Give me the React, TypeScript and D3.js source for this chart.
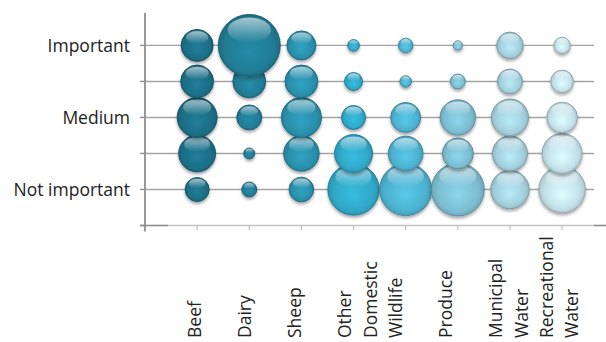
import React from "react";
import * as d3 from "d3";

const categories = ["Beef", "Dairy", "Sheep", "Other Domestic", "Wildlife", "Produce", "Municipal Water", "Recreational Water"];
const categoryLines = [["Beef"], ["Dairy"], ["Sheep"], ["Other", "Domestic"], ["Wildlife"], ["Produce"], ["Municipal", "Water"], ["Recreational", "Water"]];
const levelTicks = [0, 1, 2, 3, 4, 5];
const levelLabels = ["", "Not important", "", "Medium", "", "Important"];
const columnColors = ["#1d6e86", "#217c95", "#2a8fab", "#30a7c7", "#4db1cf", "#7cbdd1", "#a3cfdc", "#c3e0e8"];

// bubble sizes (area-proportional), one array per importance level
const notImportant = [14.4, 5.6, 15.2, 66, 68, 70, 37, 54];
const lowMedium = [34, 3, 31.4, 36, 30, 24, 30.7, 40];
const medium = [40, 15.6, 40, 14.4, 22.5, 31.4, 34.3, 23.4];
const highMedium = [27, 27, 27, 8.1, 3.3, 5.6, 15.6, 12.8];
const important = [25.6, 96, 21, 3.4, 5.3, 2.2, 17.7, 6.7];
const seriesByLevel = [notImportant, lowMedium, medium, highMedium, important];

const W = 606;
const H = 342;

export default function App() {
  const x = d3.scaleLinear().domain([0, 8]).range([145, 562.1]);
  const y = d3.scaleLinear().domain([0, 5.9]).range([225.5, 13]);
  const r = d3.scaleSqrt().domain([0, 100]).range([0, 31.6]);
  const labelX = d3.scaleLinear().domain([0, 7]).range([200.5, 552.6]);
  const plotRight = 594;
  const font = "'Open Sans', 'Noto Sans', sans-serif";

  const bubbles: any[] = [];
  seriesByLevel.forEach((arr, li) => {
    arr.forEach((v, ci) => {
      bubbles.push({ level: li + 1, ci, v });
    });
  });

  return (
    <svg width={W} height={H} style={{ position: "absolute", left: 0, top: 0, background: "#fff" }}>
      <defs>
        <filter id="shadow" x="-30%" y="-30%" width="160%" height="170%">
          <feDropShadow dx="0" dy="2.2" stdDeviation="1.6" floodColor="#000" floodOpacity="0.35" />
        </filter>
        <linearGradient id="hl" x1="0" y1="0" x2="0" y2="1">
          <stop offset="0" stopColor="#fff" stopOpacity="0.6" />
          <stop offset="1" stopColor="#fff" stopOpacity="0" />
        </linearGradient>
        {columnColors.map((c, i) => (
          <radialGradient key={i} id={`g${i}`} cx="0.5" cy="0.5" r="0.55" fx="0.5" fy="0.62">
            <stop offset="0" stopColor={d3.color(c)!.brighter(0.35).formatHex()} />
            <stop offset="0.7" stopColor={c} />
            <stop offset="0.93" stopColor={d3.color(c)!.darker(0.35).formatHex()} />
            <stop offset="1" stopColor={d3.color(c)!.darker(0.6).formatHex()} />
          </radialGradient>
        ))}
      </defs>

      {/* gridlines */}
      {levelTicks.filter((t) => t > 0).map((t) => (
        <line key={t} x1={x(0)} x2={plotRight} y1={y(t)} y2={y(t)} stroke="#a3a3a3" strokeWidth={1.4} />
      ))}

      {/* x axis */}
      <line x1={x(0) + 23} x2={plotRight} y1={y(0)} y2={y(0)} stroke="#c4c4c4" strokeWidth={1.5} />
      <line x1={x(0) - 5} x2={x(0) + 23} y1={y(0)} y2={y(0)} stroke="#8e8e8e" strokeWidth={1.6} />
      <line x1={plotRight} x2={W} y1={y(0)} y2={y(0)} stroke="#8e8e8e" strokeWidth={1.6} />
      {categories.map((c, i) => (
        <line key={c} x1={x(i + 1)} x2={x(i + 1)} y1={y(0)} y2={y(0) + 4.5} stroke="#bdbdbd" strokeWidth={1.2} />
      ))}

      {/* y axis */}
      <line x1={x(0)} x2={x(0)} y1={y(5.9)} y2={y(0) + 6} stroke="#8e8e8e" strokeWidth={1.8} />
      {levelTicks.map((t) => (
        <line key={t} x1={x(0) - 5} x2={x(0)} y1={y(t)} y2={y(t)} stroke="#8e8e8e" strokeWidth={1.4} />
      ))}
      {levelTicks.map((t) => (
        <text key={t} x={130} y={y(t)} dy="0.36em" textAnchor="end" fontFamily={font} fontSize={17.5} fill="#222">
          {levelLabels[t]}
        </text>
      ))}

      {/* bubbles */}
      {bubbles.map((b, k) => {
        const cx = x(b.ci + 1);
        const cy = y(b.level);
        const rr = r(b.v);
        return (
          <g key={k}>
            <circle cx={cx} cy={cy} r={rr} fill={`url(#g${b.ci})`} stroke={d3.color(columnColors[b.ci])!.darker(0.9).formatHex()} strokeWidth={0.9} filter="url(#shadow)" />
            <ellipse cx={cx} cy={cy - rr * 0.5} rx={rr * 0.7} ry={rr * 0.4} fill="url(#hl)" />
          </g>
        );
      })}

      {/* category labels */}
      {categoryLines.map((lines, i) => (
        <g key={i}>
          {lines.map((ln, j) => {
            const lx = labelX(i) + j * 25.5;
            const ly = 338;
            return (
              <text key={j} x={lx} y={ly} transform={`rotate(-90 ${lx} ${ly})`} fontFamily={font} fontSize={17.5} fill="#222">
                {ln}
              </text>
            );
          })}
        </g>
      ))}
    </svg>
  );
}
